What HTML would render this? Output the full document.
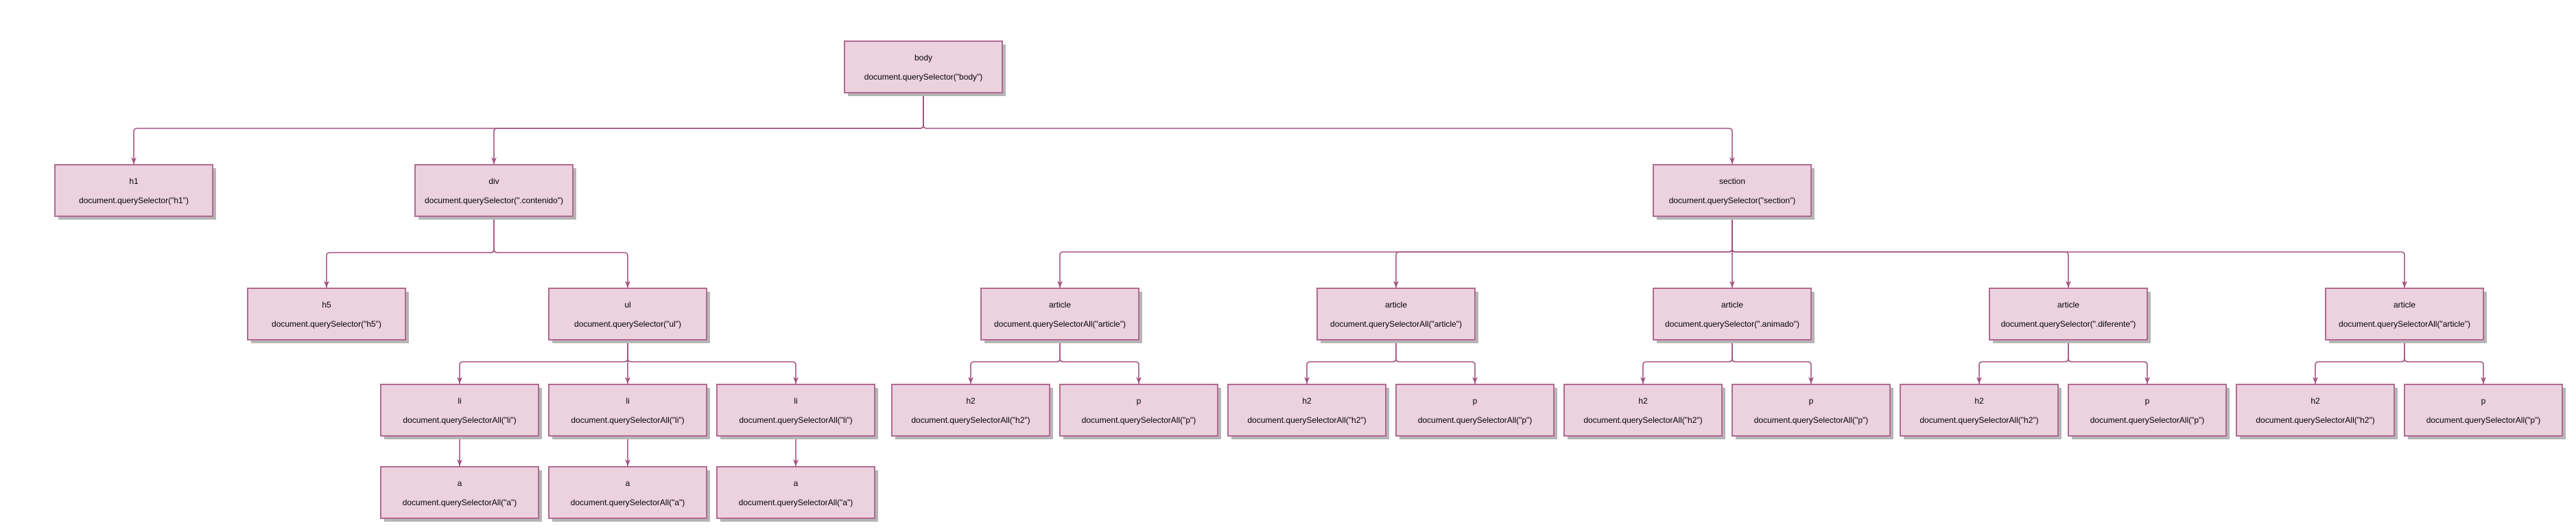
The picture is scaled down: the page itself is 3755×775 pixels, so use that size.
<!DOCTYPE html>
<html><head><meta charset="utf-8"><style>
html,body{margin:0;padding:0;background:#fff;width:3755px;height:775px;overflow:hidden}
svg{display:block}
text{font-family:"Liberation Sans",Arial,sans-serif;font-size:12px;fill:#000;text-anchor:middle}
.c{fill:none;stroke:#a3507f;stroke-width:1.6}
.s{fill:#b6b6b6}
.b{fill:#ecd2de;stroke:#b16a91;stroke-width:2}
</style></head><body>
<svg width="3755" height="775" viewBox="0 0 3755 775" xmlns="http://www.w3.org/2000/svg">
<defs><marker id="ar" markerWidth="12" markerHeight="10" refX="10" refY="4" orient="auto" markerUnits="userSpaceOnUse"><path d="M0,0 L10,4 L0,8 L3,4 z" fill="#a3507f"/></marker></defs>
<g class="c" marker-end="url(#ar)">
<path d="M1346 135V182Q1346 187 1341 187H200Q195 187 195 192V239"/>
<path d="M1346 135V182Q1346 187 1341 187H725Q720 187 720 192V239"/>
<path d="M1346 135V182Q1346 187 1351 187H2520Q2525 187 2525 192V239"/>
<path d="M720 315V363Q720 368 715 368H481Q476 368 476 373V419"/>
<path d="M720 315V363Q720 368 725 368H910Q915 368 915 373V419"/>
<path d="M2525 315V362Q2525 367 2520 367H1550Q1545 367 1545 372V419"/>
<path d="M2525 315V362Q2525 367 2520 367H2040Q2035 367 2035 372V419"/>
<path d="M2525 315V419"/>
<path d="M2525 315V362Q2525 367 2530 367H3010Q3015 367 3015 372V419"/>
<path d="M2525 315V362Q2525 367 2530 367H3500Q3505 367 3505 372V419"/>
<path d="M915 495V522Q915 527 910 527H675Q670 527 670 532V559"/>
<path d="M915 495V559"/>
<path d="M915 495V522Q915 527 920 527H1155Q1160 527 1160 532V559"/>
<path d="M670 635V679"/><path d="M915 635V679"/><path d="M1160 635V679"/>
<path d="M1545 495V522Q1545 527 1540 527H1420Q1415 527 1415 532V559"/>
<path d="M1545 495V522Q1545 527 1550 527H1655Q1660 527 1660 532V559"/>
<path d="M2035 495V522Q2035 527 2030 527H1910Q1905 527 1905 532V559"/>
<path d="M2035 495V522Q2035 527 2040 527H2145Q2150 527 2150 532V559"/>
<path d="M2525 495V522Q2525 527 2520 527H2400Q2395 527 2395 532V559"/>
<path d="M2525 495V522Q2525 527 2530 527H2635Q2640 527 2640 532V559"/>
<path d="M3015 495V522Q3015 527 3010 527H2890Q2885 527 2885 532V559"/>
<path d="M3015 495V522Q3015 527 3020 527H3125Q3130 527 3130 532V559"/>
<path d="M3505 495V522Q3505 527 3500 527H3380Q3375 527 3375 532V559"/>
<path d="M3505 495V522Q3505 527 3510 527H3615Q3620 527 3620 532V559"/>
</g>

<g transform="translate(1231,60)"><rect class="s" x="5" y="5" width="230" height="75"/><rect class="b" x="0" y="0" width="230" height="75"/><text x="115" y="28">body</text><text x="115" y="56">document.querySelector("body")</text></g>
<g transform="translate(80,240)"><rect class="s" x="5" y="5" width="230" height="75"/><rect class="b" x="0" y="0" width="230" height="75"/><text x="115" y="28">h1</text><text x="115" y="56">document.querySelector("h1")</text></g>
<g transform="translate(605,240)"><rect class="s" x="5" y="5" width="230" height="75"/><rect class="b" x="0" y="0" width="230" height="75"/><text x="115" y="28">div</text><text x="115" y="56">document.querySelector(".contenido")</text></g>
<g transform="translate(2410,240)"><rect class="s" x="5" y="5" width="230" height="75"/><rect class="b" x="0" y="0" width="230" height="75"/><text x="115" y="28">section</text><text x="115" y="56">document.querySelector("section")</text></g>
<g transform="translate(361,420)"><rect class="s" x="5" y="5" width="230" height="75"/><rect class="b" x="0" y="0" width="230" height="75"/><text x="115" y="28">h5</text><text x="115" y="56">document.querySelector("h5")</text></g>
<g transform="translate(800,420)"><rect class="s" x="5" y="5" width="230" height="75"/><rect class="b" x="0" y="0" width="230" height="75"/><text x="115" y="28">ul</text><text x="115" y="56">document.querySelector("ul")</text></g>
<g transform="translate(1430,420)"><rect class="s" x="5" y="5" width="230" height="75"/><rect class="b" x="0" y="0" width="230" height="75"/><text x="115" y="28">article</text><text x="115" y="56">document.querySelectorAll("article")</text></g>
<g transform="translate(1920,420)"><rect class="s" x="5" y="5" width="230" height="75"/><rect class="b" x="0" y="0" width="230" height="75"/><text x="115" y="28">article</text><text x="115" y="56">document.querySelectorAll("article")</text></g>
<g transform="translate(2410,420)"><rect class="s" x="5" y="5" width="230" height="75"/><rect class="b" x="0" y="0" width="230" height="75"/><text x="115" y="28">article</text><text x="115" y="56">document.querySelector(".animado")</text></g>
<g transform="translate(2900,420)"><rect class="s" x="5" y="5" width="230" height="75"/><rect class="b" x="0" y="0" width="230" height="75"/><text x="115" y="28">article</text><text x="115" y="56">document.querySelector(".diferente")</text></g>
<g transform="translate(3390,420)"><rect class="s" x="5" y="5" width="230" height="75"/><rect class="b" x="0" y="0" width="230" height="75"/><text x="115" y="28">article</text><text x="115" y="56">document.querySelectorAll("article")</text></g>

<g transform="translate(555,560)"><rect class="s" x="5" y="5" width="230" height="75"/><rect class="b" x="0" y="0" width="230" height="75"/><text x="115" y="28">li</text><text x="115" y="56">document.querySelectorAll("li")</text></g>
<g transform="translate(800,560)"><rect class="s" x="5" y="5" width="230" height="75"/><rect class="b" x="0" y="0" width="230" height="75"/><text x="115" y="28">li</text><text x="115" y="56">document.querySelectorAll("li")</text></g>
<g transform="translate(1045,560)"><rect class="s" x="5" y="5" width="230" height="75"/><rect class="b" x="0" y="0" width="230" height="75"/><text x="115" y="28">li</text><text x="115" y="56">document.querySelectorAll("li")</text></g>
<g transform="translate(555,680)"><rect class="s" x="5" y="5" width="230" height="75"/><rect class="b" x="0" y="0" width="230" height="75"/><text x="115" y="28">a</text><text x="115" y="56">document.querySelectorAll("a")</text></g>
<g transform="translate(800,680)"><rect class="s" x="5" y="5" width="230" height="75"/><rect class="b" x="0" y="0" width="230" height="75"/><text x="115" y="28">a</text><text x="115" y="56">document.querySelectorAll("a")</text></g>
<g transform="translate(1045,680)"><rect class="s" x="5" y="5" width="230" height="75"/><rect class="b" x="0" y="0" width="230" height="75"/><text x="115" y="28">a</text><text x="115" y="56">document.querySelectorAll("a")</text></g>

<g transform="translate(1300,560)"><rect class="s" x="5" y="5" width="230" height="75"/><rect class="b" x="0" y="0" width="230" height="75"/><text x="115" y="28">h2</text><text x="115" y="56">document.querySelectorAll("h2")</text></g>
<g transform="translate(1545,560)"><rect class="s" x="5" y="5" width="230" height="75"/><rect class="b" x="0" y="0" width="230" height="75"/><text x="115" y="28">p</text><text x="115" y="56">document.querySelectorAll("p")</text></g>
<g transform="translate(1790,560)"><rect class="s" x="5" y="5" width="230" height="75"/><rect class="b" x="0" y="0" width="230" height="75"/><text x="115" y="28">h2</text><text x="115" y="56">document.querySelectorAll("h2")</text></g>
<g transform="translate(2035,560)"><rect class="s" x="5" y="5" width="230" height="75"/><rect class="b" x="0" y="0" width="230" height="75"/><text x="115" y="28">p</text><text x="115" y="56">document.querySelectorAll("p")</text></g>
<g transform="translate(2280,560)"><rect class="s" x="5" y="5" width="230" height="75"/><rect class="b" x="0" y="0" width="230" height="75"/><text x="115" y="28">h2</text><text x="115" y="56">document.querySelectorAll("h2")</text></g>
<g transform="translate(2525,560)"><rect class="s" x="5" y="5" width="230" height="75"/><rect class="b" x="0" y="0" width="230" height="75"/><text x="115" y="28">p</text><text x="115" y="56">document.querySelectorAll("p")</text></g>
<g transform="translate(2770,560)"><rect class="s" x="5" y="5" width="230" height="75"/><rect class="b" x="0" y="0" width="230" height="75"/><text x="115" y="28">h2</text><text x="115" y="56">document.querySelectorAll("h2")</text></g>
<g transform="translate(3015,560)"><rect class="s" x="5" y="5" width="230" height="75"/><rect class="b" x="0" y="0" width="230" height="75"/><text x="115" y="28">p</text><text x="115" y="56">document.querySelectorAll("p")</text></g>
<g transform="translate(3260,560)"><rect class="s" x="5" y="5" width="230" height="75"/><rect class="b" x="0" y="0" width="230" height="75"/><text x="115" y="28">h2</text><text x="115" y="56">document.querySelectorAll("h2")</text></g>
<g transform="translate(3505,560)"><rect class="s" x="5" y="5" width="230" height="75"/><rect class="b" x="0" y="0" width="230" height="75"/><text x="115" y="28">p</text><text x="115" y="56">document.querySelectorAll("p")</text></g>
</svg>
</body></html>
